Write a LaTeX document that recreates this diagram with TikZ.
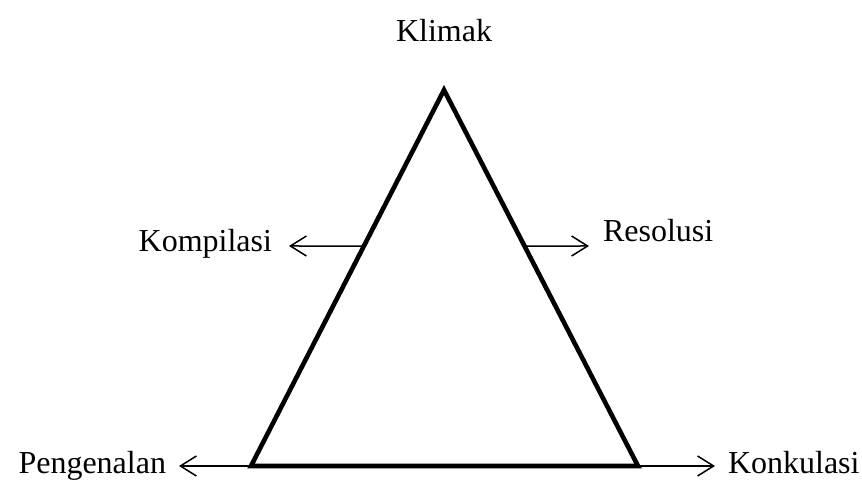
\documentclass[tikz,border=0pt]{standalone}
\usepackage{fontspec}
\setmainfont{Liberation Serif}
\usetikzlibrary{arrows.meta,calc}
\tikzstyle{stage}=[inner sep=0, outer sep=0, font=\fontsize{16}{19}\selectfont]
\tikzstyle{pointer}=[line width=0.75pt, -{Straight Barb[length=8pt, width=10pt, line width=0.75pt]}]
\tikzstyle{plot}=[line width=2.3pt, line join=miter]

\begin{document}
\begin{tikzpicture}[x=0.5pt, y=-0.5pt]
        \useasboundingbox (0, 0) rectangle (862, 485);
        % Corners of the plot triangle.
        \coordinate (top) at (444, 90);
        \coordinate (left) at (251, 466);
        \coordinate (right) at (638, 466);
        \draw[plot] (left) -- (top) -- (right) -- cycle;
        % Points on the sides where the side arrows start.
        \coordinate (kompstart) at ($(left)!0.585!(top)$);
        \coordinate (resstart) at ($(right)!0.585!(top)$);
        \coordinate (kompend) at (289, 246);
        \coordinate (resend) at (589, 246);
        \coordinate (pengend) at (179, 466);
        \coordinate (konkend) at (715, 466);
        % Labels.
        \node[stage, anchor=base]      (klimak) at (444, 42) {Klimak};
        \node[stage, anchor=base east] (kompilasi) at (272, 252) {Kompilasi};
        \node[stage, anchor=base west] (resolusi) at (603, 242) {Resolusi};
        \node[stage, anchor=base east] (pengenalan) at (166, 474) {Pengenalan};
        \node[stage, anchor=base west] (konkulasi) at (728, 474) {Konkulasi};
        \draw[pointer] (kompstart) -- (kompend);
        \draw[pointer] (resstart) -- (resend);
        \draw[pointer] (left) -- (pengend);
        \draw[pointer] (right) -- (konkend);
    \end{tikzpicture}
\end{document}
